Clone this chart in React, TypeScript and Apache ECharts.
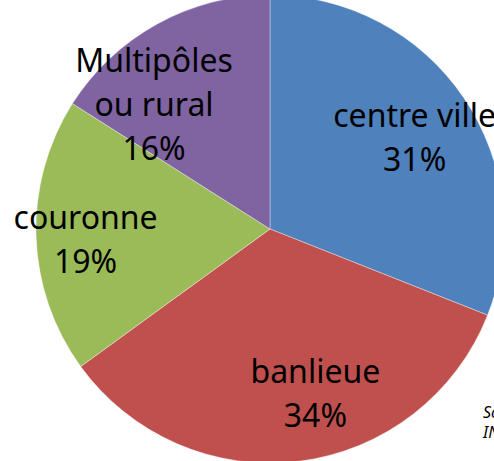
import React, { useEffect, useRef } from "react";
import * as echarts from "echarts";

const categories = ["centre ville", "banlieue", "couronne", "Multipôles\nou rural"];
const shares = [31, 34, 19, 16];
const colors = ["#4F81BD", "#C0504D", "#9BBB59", "#8064A2"];
const labelOffsets: [number, number][] = [[-3, 8], [23, -14], [-6, 4], [-30, 31]];

export default function App() {
  const ref = useRef<HTMLDivElement>(null);
  useEffect(() => {
    if (!ref.current) return;
    const chart = echarts.init(ref.current, null, { renderer: "svg" });
    const R = 234;
    const center = [270, 229];
    chart.setOption({
      animation: false,
      series: [
        {
          type: "pie",
          center,
          radius: R,
          startAngle: 90,
          clockwise: true,
          label: { show: false },
          labelLine: { show: false },
          itemStyle: { borderColor: "rgba(255,255,255,0.6)", borderWidth: 0.6 },
          data: categories.map((c, i) => ({
            name: c,
            value: shares[i],
            itemStyle: { color: colors[i] },
          })),
        },
        {
          type: "pie",
          center,
          radius: [R * 0.5, R],
          startAngle: 90,
          clockwise: true,
          silent: true,
          itemStyle: { color: "transparent" },
          labelLine: { show: false },
          label: {
            show: true,
            position: "inside",
            color: "#000",
            fontFamily: "Noto Sans",
            fontSize: 32,
            lineHeight: 44,
            formatter: (p: any) => `${p.name}\n${p.value}%`,
          },
          data: categories.map((c, i) => ({
            name: c,
            value: shares[i],
            label: { offset: labelOffsets[i] },
          })),
        },
      ],
      graphic: [
        {
          type: "text",
          left: 483,
          top: 402,
          style: {
            text: "Source :\nINSEE",
            font: "italic 16px 'Noto Sans'",
            lineHeight: 20,
            fill: "#000",
          },
        },
      ],
    });
    return () => chart.dispose();
  }, []);
  return (
    <div
      ref={ref}
      style={{ position: "fixed", left: 0, top: 0, width: 494, height: 461, background: "#fff" }}
    />
  );
}
